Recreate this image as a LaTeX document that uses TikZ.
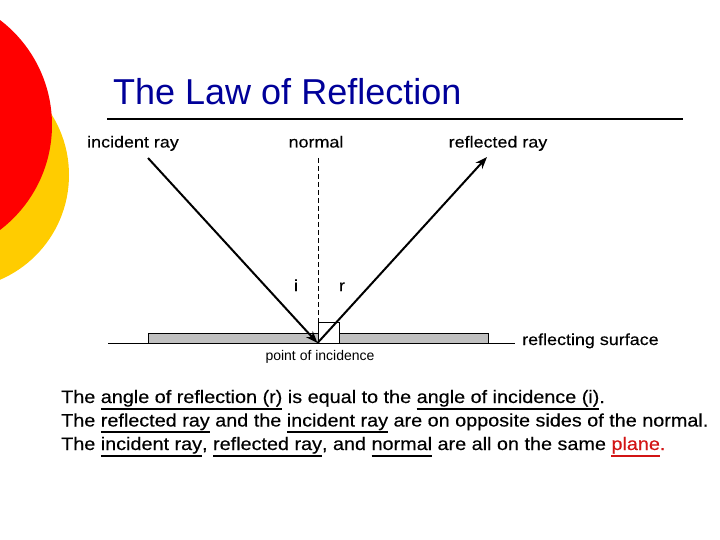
\documentclass[tikz,border=0pt]{standalone}
\usepackage{fontspec}
\setmainfont{Liberation Sans}
\newfontfamily\labelfont[FakeStretch=1.12,FakeBold=0.3]{Liberation Sans}
\newfontfamily\bodyfont[FakeStretch=1.1,FakeBold=0.3]{Liberation Sans}
\usetikzlibrary{arrows.meta}
\definecolor{titleblue}{RGB}{0,0,153}
\definecolor{discred}{RGB}{255,0,0}
\definecolor{discyellow}{RGB}{255,204,0}
\definecolor{surfgray}{RGB}{192,192,192}
\definecolor{planered}{RGB}{210,20,20}
\newcommand\myul[2][black]{\setbox0\hbox{#2}\rlap{\color{#1}\rule[-6.5pt]{\wd0}{1.7pt}}\box0\relax}
\begin{document}
\begin{tikzpicture}[x=1pt,y=-1pt,
  lbl/.style={font=\labelfont\fontsize{16}{19}\selectfont, inner sep=0pt},
  body/.style={font=\bodyfont\fontsize{18}{21}\selectfont, inner sep=0pt, anchor=base west},
  ray/.style={line width=2pt},
  thin line/.style={line width=0.8pt}]
\useasboundingbox (0,0) rectangle (720,540);
\begin{scope}
  \clip (0,0) rectangle (720,540);
  \fill[discyellow] (-45,175) circle[radius=114];
  \fill[discred] (-80,125) circle[radius=132];
\end{scope}

\node[anchor=base west, font=\fontsize{36}{40}\selectfont, text=titleblue, inner sep=0pt] (title) at (113,105) {The Law of Reflection};
\coordinate (ruleL) at (107,119);
\coordinate (ruleR) at (683,119);
\draw[line width=2pt] (ruleL) -- (ruleR);

\node[lbl, anchor=base] (inc) at (133,147.5) {incident ray};
\node[lbl, anchor=base] (nor) at (316,147.5) {normal};
\node[lbl, anchor=base] (refl) at (498,147.5) {reflected ray};

\coordinate (surfL) at (108,343);
\coordinate (surfR) at (515,343);
\draw[thin line] (surfL) -- (surfR);
\draw[thin line, fill=surfgray] (148,333) rectangle (488,343);
\draw[thin line, fill=white] (318,322) rectangle (339,343);
\coordinate (nTop) at (318,158);
\coordinate (nBot) at (318,322);
\draw[thin line, dash pattern=on 5pt off 3pt] (nTop) -- (nBot);

\coordinate (P) at (317.5,343);
\coordinate (A) at (148,158);
\coordinate (B) at (487,157);
\draw[ray, -{Stealth[length=12pt,width=9pt]}] (A) -- (P);
\draw[ray, -{Stealth[length=12pt,width=9pt]}] (P) -- (B);

\node[lbl, anchor=base] (ai) at (296,291) {i};
\node[lbl, anchor=base] (ar) at (342,291) {r};
\node[lbl, anchor=base west] (surf) at (522,345) {reflecting surface};
\node[font=\fontsize{14}{16}\selectfont, inner sep=0pt, anchor=base] (poi) at (320,360) {point of incidence};

\node[body] (l1) at (61,403) {The \myul{angle of reflection (r)} is equal to the \myul{angle of incidence (i)}.};
\node[body] (l2) at (61,426.5) {The \myul{reflected ray} and the \myul{incident ray} are on opposite sides of the normal.};
\node[body] (l3) at (61,450) {The \myul{incident ray}, \myul{reflected ray}, and \myul{normal} are all on the same \myul[planered]{\color{planered}plane}.};
\end{tikzpicture}
\end{document}
